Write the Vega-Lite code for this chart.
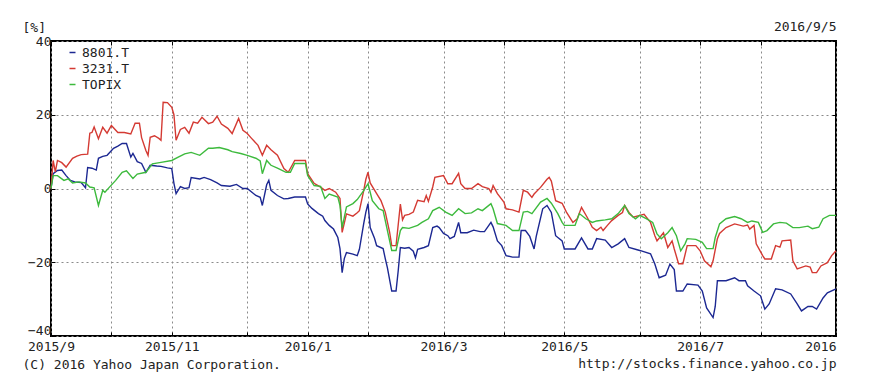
{
  "$schema": "https://vega.github.io/schema/vega-lite/v6.json",
  "width": 785,
  "height": 295,
  "autosize": {"type": "none"},
  "padding": {"left": 51, "top": 41, "right": 34, "bottom": 47},
  "background": "white",
  "config": {
    "font": "DejaVu Sans Mono",
    "view": {"stroke": "#000", "strokeWidth": 2},
    "axis": {
      "labelFont": "DejaVu Sans Mono", "labelFontSize": 13, "labelColor": "#222",
      "titleFont": "DejaVu Sans Mono", "titleFontSize": 13, "titleFontWeight": "normal", "titleColor": "#222",
      "domain": false, "gridColor": "#8a8a8a", "gridDash": [2, 3], "gridWidth": 1, "tickColor": "#000"
    }
  },
  "data": {"values": [
    {"date":"2015/09/07","code":"8801.T","pct":0},{"date":"2015/09/08","code":"8801.T","pct":4.0},{"date":"2015/09/10","code":"8801.T","pct":4.9},{"date":"2015/09/12","code":"8801.T","pct":5.0},{"date":"2015/09/14","code":"8801.T","pct":3.5},{"date":"2015/09/16","code":"8801.T","pct":2.2},{"date":"2015/09/18","code":"8801.T","pct":1.8},{"date":"2015/09/21","code":"8801.T","pct":1.6},{"date":"2015/09/23","code":"8801.T","pct":0.2},{"date":"2015/09/24","code":"8801.T","pct":5.7},{"date":"2015/09/26","code":"8801.T","pct":5.5},{"date":"2015/09/28","code":"8801.T","pct":5.0},{"date":"2015/09/29","code":"8801.T","pct":8.2},{"date":"2015/10/01","code":"8801.T","pct":8.7},{"date":"2015/10/03","code":"8801.T","pct":9.0},{"date":"2015/10/06","code":"8801.T","pct":10.9},{"date":"2015/10/08","code":"8801.T","pct":11.5},{"date":"2015/10/10","code":"8801.T","pct":12.2},{"date":"2015/10/12","code":"8801.T","pct":12.2},{"date":"2015/10/14","code":"8801.T","pct":8.5},{"date":"2015/10/15","code":"8801.T","pct":9.5},{"date":"2015/10/17","code":"8801.T","pct":7.3},{"date":"2015/10/19","code":"8801.T","pct":6.8},{"date":"2015/10/21","code":"8801.T","pct":4.4},{"date":"2015/10/23","code":"8801.T","pct":6.3},{"date":"2015/10/26","code":"8801.T","pct":6.1},{"date":"2015/10/28","code":"8801.T","pct":6.0},{"date":"2015/10/31","code":"8801.T","pct":5.6},{"date":"2015/11/02","code":"8801.T","pct":5.4},{"date":"2015/11/03","code":"8801.T","pct":1.4},{"date":"2015/11/04","code":"8801.T","pct":-1.4},{"date":"2015/11/06","code":"8801.T","pct":0.5},{"date":"2015/11/08","code":"8801.T","pct":0.0},{"date":"2015/11/10","code":"8801.T","pct":0.2},{"date":"2015/11/11","code":"8801.T","pct":3.0},{"date":"2015/11/15","code":"8801.T","pct":2.6},{"date":"2015/11/17","code":"8801.T","pct":3.0},{"date":"2015/11/20","code":"8801.T","pct":2.4},{"date":"2015/11/23","code":"8801.T","pct":1.5},{"date":"2015/11/25","code":"8801.T","pct":0.8},{"date":"2015/11/29","code":"8801.T","pct":0.6},{"date":"2015/12/02","code":"8801.T","pct":1.1},{"date":"2015/12/05","code":"8801.T","pct":0},{"date":"2015/12/07","code":"8801.T","pct":0},{"date":"2015/12/11","code":"8801.T","pct":-1.9},{"date":"2015/12/13","code":"8801.T","pct":-2.4},{"date":"2015/12/14","code":"8801.T","pct":-4.6},{"date":"2015/12/16","code":"8801.T","pct":1.0},{"date":"2015/12/17","code":"8801.T","pct":2.2},{"date":"2015/12/18","code":"8801.T","pct":-0.5},{"date":"2015/12/21","code":"8801.T","pct":-1.9},{"date":"2015/12/24","code":"8801.T","pct":-2.8},{"date":"2015/12/26","code":"8801.T","pct":-2.7},{"date":"2015/12/29","code":"8801.T","pct":-2.3},{"date":"2016/01/03","code":"8801.T","pct":-2.3},{"date":"2016/01/04","code":"8801.T","pct":-4.2},{"date":"2016/01/06","code":"8801.T","pct":-5.4},{"date":"2016/01/09","code":"8801.T","pct":-6.8},{"date":"2016/01/11","code":"8801.T","pct":-7.5},{"date":"2016/01/12","code":"8801.T","pct":-8.7},{"date":"2016/01/14","code":"8801.T","pct":-10},{"date":"2016/01/16","code":"8801.T","pct":-11},{"date":"2016/01/18","code":"8801.T","pct":-13.3},{"date":"2016/01/19","code":"8801.T","pct":-16.3},{"date":"2016/01/20","code":"8801.T","pct":-22.8},{"date":"2016/01/21","code":"8801.T","pct":-19},{"date":"2016/01/22","code":"8801.T","pct":-17.4},{"date":"2016/01/25","code":"8801.T","pct":-17.8},{"date":"2016/01/27","code":"8801.T","pct":-18.2},{"date":"2016/01/28","code":"8801.T","pct":-16.5},{"date":"2016/01/30","code":"8801.T","pct":-9.5},{"date":"2016/01/31","code":"8801.T","pct":-6.4},{"date":"2016/02/01","code":"8801.T","pct":-4.1},{"date":"2016/02/02","code":"8801.T","pct":-10.6},{"date":"2016/02/04","code":"8801.T","pct":-13.5},{"date":"2016/02/05","code":"8801.T","pct":-15.5},{"date":"2016/02/08","code":"8801.T","pct":-16.3},{"date":"2016/02/09","code":"8801.T","pct":-19},{"date":"2016/02/10","code":"8801.T","pct":-21.5},{"date":"2016/02/12","code":"8801.T","pct":-27.8},{"date":"2016/02/14","code":"8801.T","pct":-27.8},{"date":"2016/02/15","code":"8801.T","pct":-22.3},{"date":"2016/02/16","code":"8801.T","pct":-16.0},{"date":"2016/02/18","code":"8801.T","pct":-16.2},{"date":"2016/02/20","code":"8801.T","pct":-16.0},{"date":"2016/02/22","code":"8801.T","pct":-17},{"date":"2016/02/23","code":"8801.T","pct":-18.8},{"date":"2016/02/24","code":"8801.T","pct":-16.5},{"date":"2016/02/27","code":"8801.T","pct":-16.0},{"date":"2016/02/29","code":"8801.T","pct":-15.5},{"date":"2016/03/02","code":"8801.T","pct":-10.6},{"date":"2016/03/04","code":"8801.T","pct":-10.2},{"date":"2016/03/05","code":"8801.T","pct":-10.6},{"date":"2016/03/07","code":"8801.T","pct":-12.2},{"date":"2016/03/09","code":"8801.T","pct":-12.8},{"date":"2016/03/10","code":"8801.T","pct":-13.6},{"date":"2016/03/12","code":"8801.T","pct":-13.0},{"date":"2016/03/14","code":"8801.T","pct":-9.2},{"date":"2016/03/15","code":"8801.T","pct":-12},{"date":"2016/03/17","code":"8801.T","pct":-12},{"date":"2016/03/18","code":"8801.T","pct":-12},{"date":"2016/03/21","code":"8801.T","pct":-11.3},{"date":"2016/03/24","code":"8801.T","pct":-11.7},{"date":"2016/03/26","code":"8801.T","pct":-11.7},{"date":"2016/03/29","code":"8801.T","pct":-9.2},{"date":"2016/03/30","code":"8801.T","pct":-10.4},{"date":"2016/04/01","code":"8801.T","pct":-14.2},{"date":"2016/04/03","code":"8801.T","pct":-15.5},{"date":"2016/04/05","code":"8801.T","pct":-18.2},{"date":"2016/04/08","code":"8801.T","pct":-18.6},{"date":"2016/04/11","code":"8801.T","pct":-18.6},{"date":"2016/04/12","code":"8801.T","pct":-11.4},{"date":"2016/04/14","code":"8801.T","pct":-11.4},{"date":"2016/04/16","code":"8801.T","pct":-13},{"date":"2016/04/18","code":"8801.T","pct":-16.4},{"date":"2016/04/19","code":"8801.T","pct":-13},{"date":"2016/04/22","code":"8801.T","pct":-5.5},{"date":"2016/04/24","code":"8801.T","pct":-4.6},{"date":"2016/04/26","code":"8801.T","pct":-6.5},{"date":"2016/04/28","code":"8801.T","pct":-12.8},{"date":"2016/05/01","code":"8801.T","pct":-14.2},{"date":"2016/05/02","code":"8801.T","pct":-16.4},{"date":"2016/05/07","code":"8801.T","pct":-16.4},{"date":"2016/05/10","code":"8801.T","pct":-13.4},{"date":"2016/05/13","code":"8801.T","pct":-16.4},{"date":"2016/05/15","code":"8801.T","pct":-16.4},{"date":"2016/05/17","code":"8801.T","pct":-13.6},{"date":"2016/05/21","code":"8801.T","pct":-14.0},{"date":"2016/05/24","code":"8801.T","pct":-16.0},{"date":"2016/05/27","code":"8801.T","pct":-15},{"date":"2016/05/30","code":"8801.T","pct":-13.6},{"date":"2016/06/01","code":"8801.T","pct":-16},{"date":"2016/06/06","code":"8801.T","pct":-16.8},{"date":"2016/06/11","code":"8801.T","pct":-17.7},{"date":"2016/06/13","code":"8801.T","pct":-20.5},{"date":"2016/06/15","code":"8801.T","pct":-24.2},{"date":"2016/06/18","code":"8801.T","pct":-23.5},{"date":"2016/06/20","code":"8801.T","pct":-20.5},{"date":"2016/06/22","code":"8801.T","pct":-22},{"date":"2016/06/23","code":"8801.T","pct":-27.8},{"date":"2016/06/26","code":"8801.T","pct":-27.8},{"date":"2016/06/28","code":"8801.T","pct":-25.9},{"date":"2016/07/03","code":"8801.T","pct":-26.2},{"date":"2016/07/05","code":"8801.T","pct":-27.8},{"date":"2016/07/07","code":"8801.T","pct":-32.4},{"date":"2016/07/10","code":"8801.T","pct":-35},{"date":"2016/07/11","code":"8801.T","pct":-32},{"date":"2016/07/12","code":"8801.T","pct":-25},{"date":"2016/07/16","code":"8801.T","pct":-25},{"date":"2016/07/20","code":"8801.T","pct":-24.2},{"date":"2016/07/22","code":"8801.T","pct":-25},{"date":"2016/07/25","code":"8801.T","pct":-25},{"date":"2016/07/26","code":"8801.T","pct":-26.4},{"date":"2016/07/29","code":"8801.T","pct":-27.8},{"date":"2016/08/01","code":"8801.T","pct":-29.1},{"date":"2016/08/03","code":"8801.T","pct":-32.7},{"date":"2016/08/05","code":"8801.T","pct":-31.3},{"date":"2016/08/08","code":"8801.T","pct":-27.2},{"date":"2016/08/11","code":"8801.T","pct":-27.5},{"date":"2016/08/15","code":"8801.T","pct":-28.6},{"date":"2016/08/18","code":"8801.T","pct":-31.3},{"date":"2016/08/20","code":"8801.T","pct":-33.2},{"date":"2016/08/23","code":"8801.T","pct":-32},{"date":"2016/08/25","code":"8801.T","pct":-32},{"date":"2016/08/27","code":"8801.T","pct":-32.7},{"date":"2016/08/30","code":"8801.T","pct":-29.7},{"date":"2016/09/01","code":"8801.T","pct":-28.3},{"date":"2016/09/05","code":"8801.T","pct":-27.2},
    {"date":"2015/09/07","code":"3231.T","pct":0},{"date":"2015/09/08","code":"3231.T","pct":7.6},{"date":"2015/09/09","code":"3231.T","pct":4.5},{"date":"2015/09/10","code":"3231.T","pct":7.6},{"date":"2015/09/12","code":"3231.T","pct":7.0},{"date":"2015/09/14","code":"3231.T","pct":5.8},{"date":"2015/09/17","code":"3231.T","pct":8.2},{"date":"2015/09/19","code":"3231.T","pct":8.8},{"date":"2015/09/21","code":"3231.T","pct":9.2},{"date":"2015/09/24","code":"3231.T","pct":9.3},{"date":"2015/09/25","code":"3231.T","pct":15.0},{"date":"2015/09/26","code":"3231.T","pct":15.2},{"date":"2015/09/27","code":"3231.T","pct":16.7},{"date":"2015/09/29","code":"3231.T","pct":13.5},{"date":"2015/10/01","code":"3231.T","pct":16.6},{"date":"2015/10/03","code":"3231.T","pct":15.0},{"date":"2015/10/05","code":"3231.T","pct":17.1},{"date":"2015/10/08","code":"3231.T","pct":15.2},{"date":"2015/10/11","code":"3231.T","pct":15.2},{"date":"2015/10/14","code":"3231.T","pct":14.8},{"date":"2015/10/16","code":"3231.T","pct":17.7},{"date":"2015/10/18","code":"3231.T","pct":17.7},{"date":"2015/10/19","code":"3231.T","pct":13.8},{"date":"2015/10/21","code":"3231.T","pct":10.3},{"date":"2015/10/22","code":"3231.T","pct":9.0},{"date":"2015/10/23","code":"3231.T","pct":13.9},{"date":"2015/10/25","code":"3231.T","pct":14.3},{"date":"2015/10/27","code":"3231.T","pct":13.6},{"date":"2015/10/28","code":"3231.T","pct":13.1},{"date":"2015/10/29","code":"3231.T","pct":23.4},{"date":"2015/10/31","code":"3231.T","pct":23.3},{"date":"2015/11/02","code":"3231.T","pct":22.0},{"date":"2015/11/03","code":"3231.T","pct":20.0},{"date":"2015/11/04","code":"3231.T","pct":13.1},{"date":"2015/11/06","code":"3231.T","pct":16.0},{"date":"2015/11/08","code":"3231.T","pct":16.6},{"date":"2015/11/10","code":"3231.T","pct":15.0},{"date":"2015/11/12","code":"3231.T","pct":18.0},{"date":"2015/11/14","code":"3231.T","pct":17.7},{"date":"2015/11/16","code":"3231.T","pct":19.3},{"date":"2015/11/19","code":"3231.T","pct":17.6},{"date":"2015/11/21","code":"3231.T","pct":18.0},{"date":"2015/11/23","code":"3231.T","pct":19.6},{"date":"2015/11/25","code":"3231.T","pct":17.5},{"date":"2015/11/28","code":"3231.T","pct":16.3},{"date":"2015/11/30","code":"3231.T","pct":14.9},{"date":"2015/12/03","code":"3231.T","pct":19.0},{"date":"2015/12/05","code":"3231.T","pct":15.8},{"date":"2015/12/07","code":"3231.T","pct":14.9},{"date":"2015/12/09","code":"3231.T","pct":13.6},{"date":"2015/12/12","code":"3231.T","pct":11.7},{"date":"2015/12/14","code":"3231.T","pct":9.0},{"date":"2015/12/16","code":"3231.T","pct":11.7},{"date":"2015/12/18","code":"3231.T","pct":10.5},{"date":"2015/12/21","code":"3231.T","pct":9.0},{"date":"2015/12/24","code":"3231.T","pct":5.4},{"date":"2015/12/26","code":"3231.T","pct":4.4},{"date":"2015/12/28","code":"3231.T","pct":6.5},{"date":"2015/12/29","code":"3231.T","pct":7.6},{"date":"2016/01/03","code":"3231.T","pct":7.6},{"date":"2016/01/04","code":"3231.T","pct":4.0},{"date":"2016/01/07","code":"3231.T","pct":1.4},{"date":"2016/01/10","code":"3231.T","pct":0.4},{"date":"2016/01/12","code":"3231.T","pct":-0.5},{"date":"2016/01/14","code":"3231.T","pct":0.0},{"date":"2016/01/17","code":"3231.T","pct":-1.0},{"date":"2016/01/19","code":"3231.T","pct":-2.7},{"date":"2016/01/20","code":"3231.T","pct":-11.9},{"date":"2016/01/22","code":"3231.T","pct":-6.9},{"date":"2016/01/25","code":"3231.T","pct":-7.5},{"date":"2016/01/27","code":"3231.T","pct":-6.6},{"date":"2016/01/28","code":"3231.T","pct":-6.0},{"date":"2016/01/30","code":"3231.T","pct":-0.6},{"date":"2016/01/31","code":"3231.T","pct":2.5},{"date":"2016/02/01","code":"3231.T","pct":4.4},{"date":"2016/02/02","code":"3231.T","pct":1.5},{"date":"2016/02/05","code":"3231.T","pct":-1.4},{"date":"2016/02/07","code":"3231.T","pct":-3.3},{"date":"2016/02/09","code":"3231.T","pct":-6.4},{"date":"2016/02/11","code":"3231.T","pct":-11.8},{"date":"2016/02/12","code":"3231.T","pct":-15.5},{"date":"2016/02/14","code":"3231.T","pct":-15.5},{"date":"2016/02/16","code":"3231.T","pct":-4.2},{"date":"2016/02/17","code":"3231.T","pct":-8.5},{"date":"2016/02/18","code":"3231.T","pct":-7.3},{"date":"2016/02/20","code":"3231.T","pct":-7.0},{"date":"2016/02/22","code":"3231.T","pct":-6.4},{"date":"2016/02/24","code":"3231.T","pct":-3.2},{"date":"2016/02/27","code":"3231.T","pct":-3.6},{"date":"2016/02/28","code":"3231.T","pct":-1.9},{"date":"2016/02/29","code":"3231.T","pct":-3.5},{"date":"2016/03/02","code":"3231.T","pct":0.4},{"date":"2016/03/03","code":"3231.T","pct":3.0},{"date":"2016/03/07","code":"3231.T","pct":3.5},{"date":"2016/03/09","code":"3231.T","pct":1.3},{"date":"2016/03/11","code":"3231.T","pct":1.3},{"date":"2016/03/14","code":"3231.T","pct":4.1},{"date":"2016/03/15","code":"3231.T","pct":1.3},{"date":"2016/03/17","code":"3231.T","pct":0},{"date":"2016/03/20","code":"3231.T","pct":0},{"date":"2016/03/23","code":"3231.T","pct":1.3},{"date":"2016/03/25","code":"3231.T","pct":0.5},{"date":"2016/03/28","code":"3231.T","pct":0},{"date":"2016/03/29","code":"3231.T","pct":-1},{"date":"2016/03/30","code":"3231.T","pct":0.8},{"date":"2016/04/01","code":"3231.T","pct":-1.4},{"date":"2016/04/04","code":"3231.T","pct":-3.7},{"date":"2016/04/05","code":"3231.T","pct":-5.5},{"date":"2016/04/08","code":"3231.T","pct":-5.8},{"date":"2016/04/11","code":"3231.T","pct":-6.4},{"date":"2016/04/13","code":"3231.T","pct":-0.5},{"date":"2016/04/15","code":"3231.T","pct":-1},{"date":"2016/04/17","code":"3231.T","pct":-2.4},{"date":"2016/04/18","code":"3231.T","pct":-1.5},{"date":"2016/04/21","code":"3231.T","pct":0.3},{"date":"2016/04/24","code":"3231.T","pct":2.5},{"date":"2016/04/25","code":"3231.T","pct":3.0},{"date":"2016/04/26","code":"3231.T","pct":2.0},{"date":"2016/04/28","code":"3231.T","pct":-3.3},{"date":"2016/05/01","code":"3231.T","pct":-4},{"date":"2016/05/03","code":"3231.T","pct":-6.4},{"date":"2016/05/06","code":"3231.T","pct":-9.2},{"date":"2016/05/08","code":"3231.T","pct":-8.2},{"date":"2016/05/10","code":"3231.T","pct":-5.1},{"date":"2016/05/13","code":"3231.T","pct":-8.2},{"date":"2016/05/15","code":"3231.T","pct":-10.5},{"date":"2016/05/17","code":"3231.T","pct":-11.4},{"date":"2016/05/19","code":"3231.T","pct":-10.5},{"date":"2016/05/20","code":"3231.T","pct":-11.4},{"date":"2016/05/22","code":"3231.T","pct":-10},{"date":"2016/05/24","code":"3231.T","pct":-8.7},{"date":"2016/05/27","code":"3231.T","pct":-7.3},{"date":"2016/05/29","code":"3231.T","pct":-6.5},{"date":"2016/05/30","code":"3231.T","pct":-4.6},{"date":"2016/06/01","code":"3231.T","pct":-6.5},{"date":"2016/06/03","code":"3231.T","pct":-7.8},{"date":"2016/06/06","code":"3231.T","pct":-7.3},{"date":"2016/06/08","code":"3231.T","pct":-7},{"date":"2016/06/11","code":"3231.T","pct":-9.2},{"date":"2016/06/13","code":"3231.T","pct":-12.8},{"date":"2016/06/14","code":"3231.T","pct":-14.2},{"date":"2016/06/17","code":"3231.T","pct":-12},{"date":"2016/06/19","code":"3231.T","pct":-16},{"date":"2016/06/21","code":"3231.T","pct":-14.2},{"date":"2016/06/22","code":"3231.T","pct":-16.4},{"date":"2016/06/24","code":"3231.T","pct":-20.4},{"date":"2016/06/26","code":"3231.T","pct":-20.4},{"date":"2016/06/28","code":"3231.T","pct":-15.5},{"date":"2016/07/02","code":"3231.T","pct":-15.5},{"date":"2016/07/04","code":"3231.T","pct":-16.9},{"date":"2016/07/06","code":"3231.T","pct":-19.6},{"date":"2016/07/09","code":"3231.T","pct":-21.2},{"date":"2016/07/10","code":"3231.T","pct":-19.6},{"date":"2016/07/12","code":"3231.T","pct":-13.6},{"date":"2016/07/13","code":"3231.T","pct":-12.2},{"date":"2016/07/16","code":"3231.T","pct":-10.6},{"date":"2016/07/20","code":"3231.T","pct":-9.6},{"date":"2016/07/24","code":"3231.T","pct":-10.2},{"date":"2016/07/26","code":"3231.T","pct":-9.9},{"date":"2016/07/27","code":"3231.T","pct":-11},{"date":"2016/07/29","code":"3231.T","pct":-10},{"date":"2016/07/30","code":"3231.T","pct":-15},{"date":"2016/08/02","code":"3231.T","pct":-18.2},{"date":"2016/08/03","code":"3231.T","pct":-19.1},{"date":"2016/08/06","code":"3231.T","pct":-19.1},{"date":"2016/08/08","code":"3231.T","pct":-15.5},{"date":"2016/08/10","code":"3231.T","pct":-15.9},{"date":"2016/08/11","code":"3231.T","pct":-14.2},{"date":"2016/08/15","code":"3231.T","pct":-14.0},{"date":"2016/08/16","code":"3231.T","pct":-19.6},{"date":"2016/08/18","code":"3231.T","pct":-21.8},{"date":"2016/08/22","code":"3231.T","pct":-21.0},{"date":"2016/08/24","code":"3231.T","pct":-21.3},{"date":"2016/08/25","code":"3231.T","pct":-22.8},{"date":"2016/08/27","code":"3231.T","pct":-22.8},{"date":"2016/08/29","code":"3231.T","pct":-21},{"date":"2016/09/01","code":"3231.T","pct":-20.1},{"date":"2016/09/03","code":"3231.T","pct":-18.2},{"date":"2016/09/05","code":"3231.T","pct":-16.9},
    {"date":"2015/09/07","code":"TOPIX","pct":0},{"date":"2015/09/08","code":"TOPIX","pct":3.5},{"date":"2015/09/10","code":"TOPIX","pct":3.5},{"date":"2015/09/13","code":"TOPIX","pct":2.2},{"date":"2015/09/15","code":"TOPIX","pct":2.6},{"date":"2015/09/17","code":"TOPIX","pct":1.5},{"date":"2015/09/20","code":"TOPIX","pct":1.8},{"date":"2015/09/23","code":"TOPIX","pct":1.5},{"date":"2015/09/25","code":"TOPIX","pct":0.4},{"date":"2015/09/27","code":"TOPIX","pct":0.2},{"date":"2015/09/29","code":"TOPIX","pct":-4.6},{"date":"2015/10/01","code":"TOPIX","pct":-0.5},{"date":"2015/10/02","code":"TOPIX","pct":-1.0},{"date":"2015/10/04","code":"TOPIX","pct":0.3},{"date":"2015/10/07","code":"TOPIX","pct":2.2},{"date":"2015/10/10","code":"TOPIX","pct":4.4},{"date":"2015/10/12","code":"TOPIX","pct":4.8},{"date":"2015/10/15","code":"TOPIX","pct":2.7},{"date":"2015/10/17","code":"TOPIX","pct":3.9},{"date":"2015/10/21","code":"TOPIX","pct":4.4},{"date":"2015/10/24","code":"TOPIX","pct":6.7},{"date":"2015/10/28","code":"TOPIX","pct":7.1},{"date":"2015/11/02","code":"TOPIX","pct":7.6},{"date":"2015/11/05","code":"TOPIX","pct":8.5},{"date":"2015/11/08","code":"TOPIX","pct":9.4},{"date":"2015/11/11","code":"TOPIX","pct":9.8},{"date":"2015/11/15","code":"TOPIX","pct":9.0},{"date":"2015/11/19","code":"TOPIX","pct":10.9},{"date":"2015/11/21","code":"TOPIX","pct":10.9},{"date":"2015/11/24","code":"TOPIX","pct":11.1},{"date":"2015/11/28","code":"TOPIX","pct":10.5},{"date":"2015/11/30","code":"TOPIX","pct":10.0},{"date":"2015/12/04","code":"TOPIX","pct":9.5},{"date":"2015/12/07","code":"TOPIX","pct":9.0},{"date":"2015/12/11","code":"TOPIX","pct":8.2},{"date":"2015/12/13","code":"TOPIX","pct":7.5},{"date":"2015/12/14","code":"TOPIX","pct":4.0},{"date":"2015/12/16","code":"TOPIX","pct":7.6},{"date":"2015/12/18","code":"TOPIX","pct":6.3},{"date":"2015/12/21","code":"TOPIX","pct":5.5},{"date":"2015/12/25","code":"TOPIX","pct":4.4},{"date":"2015/12/27","code":"TOPIX","pct":4.4},{"date":"2015/12/29","code":"TOPIX","pct":6.8},{"date":"2016/01/03","code":"TOPIX","pct":6.8},{"date":"2016/01/04","code":"TOPIX","pct":3.5},{"date":"2016/01/07","code":"TOPIX","pct":0.8},{"date":"2016/01/10","code":"TOPIX","pct":0.6},{"date":"2016/01/12","code":"TOPIX","pct":-2.7},{"date":"2016/01/14","code":"TOPIX","pct":-1.5},{"date":"2016/01/18","code":"TOPIX","pct":-2.3},{"date":"2016/01/19","code":"TOPIX","pct":-4.6},{"date":"2016/01/20","code":"TOPIX","pct":-10.6},{"date":"2016/01/22","code":"TOPIX","pct":-5},{"date":"2016/01/25","code":"TOPIX","pct":-4.1},{"date":"2016/01/27","code":"TOPIX","pct":-3.0},{"date":"2016/01/30","code":"TOPIX","pct":-0.6},{"date":"2016/01/31","code":"TOPIX","pct":0.4},{"date":"2016/02/01","code":"TOPIX","pct":1.3},{"date":"2016/02/03","code":"TOPIX","pct":-3.3},{"date":"2016/02/06","code":"TOPIX","pct":-5.5},{"date":"2016/02/08","code":"TOPIX","pct":-6},{"date":"2016/02/10","code":"TOPIX","pct":-11.4},{"date":"2016/02/12","code":"TOPIX","pct":-16.8},{"date":"2016/02/14","code":"TOPIX","pct":-16.8},{"date":"2016/02/16","code":"TOPIX","pct":-11.4},{"date":"2016/02/17","code":"TOPIX","pct":-10.6},{"date":"2016/02/20","code":"TOPIX","pct":-10.8},{"date":"2016/02/24","code":"TOPIX","pct":-10},{"date":"2016/02/26","code":"TOPIX","pct":-9.2},{"date":"2016/02/29","code":"TOPIX","pct":-8.2},{"date":"2016/03/02","code":"TOPIX","pct":-6},{"date":"2016/03/05","code":"TOPIX","pct":-5.1},{"date":"2016/03/08","code":"TOPIX","pct":-6.4},{"date":"2016/03/11","code":"TOPIX","pct":-7.3},{"date":"2016/03/14","code":"TOPIX","pct":-5.5},{"date":"2016/03/17","code":"TOPIX","pct":-6.8},{"date":"2016/03/20","code":"TOPIX","pct":-6.6},{"date":"2016/03/23","code":"TOPIX","pct":-5.5},{"date":"2016/03/25","code":"TOPIX","pct":-6},{"date":"2016/03/29","code":"TOPIX","pct":-4.1},{"date":"2016/03/30","code":"TOPIX","pct":-5.5},{"date":"2016/04/01","code":"TOPIX","pct":-9.5},{"date":"2016/04/05","code":"TOPIX","pct":-10},{"date":"2016/04/08","code":"TOPIX","pct":-11.4},{"date":"2016/04/11","code":"TOPIX","pct":-11.4},{"date":"2016/04/13","code":"TOPIX","pct":-6.4},{"date":"2016/04/15","code":"TOPIX","pct":-6.2},{"date":"2016/04/17","code":"TOPIX","pct":-6.8},{"date":"2016/04/21","code":"TOPIX","pct":-3.7},{"date":"2016/04/24","code":"TOPIX","pct":-2.7},{"date":"2016/04/26","code":"TOPIX","pct":-4},{"date":"2016/04/29","code":"TOPIX","pct":-6.8},{"date":"2016/05/01","code":"TOPIX","pct":-9.2},{"date":"2016/05/02","code":"TOPIX","pct":-10},{"date":"2016/05/07","code":"TOPIX","pct":-10},{"date":"2016/05/09","code":"TOPIX","pct":-6.8},{"date":"2016/05/12","code":"TOPIX","pct":-8.2},{"date":"2016/05/15","code":"TOPIX","pct":-9.2},{"date":"2016/05/17","code":"TOPIX","pct":-8.8},{"date":"2016/05/21","code":"TOPIX","pct":-8.5},{"date":"2016/05/24","code":"TOPIX","pct":-8.2},{"date":"2016/05/27","code":"TOPIX","pct":-6.8},{"date":"2016/05/30","code":"TOPIX","pct":-4.6},{"date":"2016/06/01","code":"TOPIX","pct":-6.8},{"date":"2016/06/04","code":"TOPIX","pct":-8.2},{"date":"2016/06/06","code":"TOPIX","pct":-7.3},{"date":"2016/06/09","code":"TOPIX","pct":-8.2},{"date":"2016/06/12","code":"TOPIX","pct":-9.2},{"date":"2016/06/14","code":"TOPIX","pct":-12.3},{"date":"2016/06/16","code":"TOPIX","pct":-13.6},{"date":"2016/06/19","code":"TOPIX","pct":-12},{"date":"2016/06/21","code":"TOPIX","pct":-10.6},{"date":"2016/06/23","code":"TOPIX","pct":-12.8},{"date":"2016/06/25","code":"TOPIX","pct":-16.9},{"date":"2016/06/27","code":"TOPIX","pct":-15},{"date":"2016/06/28","code":"TOPIX","pct":-13.6},{"date":"2016/07/02","code":"TOPIX","pct":-13.8},{"date":"2016/07/05","code":"TOPIX","pct":-14.6},{"date":"2016/07/07","code":"TOPIX","pct":-16.3},{"date":"2016/07/10","code":"TOPIX","pct":-16.3},{"date":"2016/07/11","code":"TOPIX","pct":-13.3},{"date":"2016/07/13","code":"TOPIX","pct":-9.6},{"date":"2016/07/16","code":"TOPIX","pct":-8.2},{"date":"2016/07/20","code":"TOPIX","pct":-7.6},{"date":"2016/07/23","code":"TOPIX","pct":-8.2},{"date":"2016/07/26","code":"TOPIX","pct":-9.2},{"date":"2016/07/28","code":"TOPIX","pct":-8.8},{"date":"2016/07/31","code":"TOPIX","pct":-9.2},{"date":"2016/08/02","code":"TOPIX","pct":-11.9},{"date":"2016/08/04","code":"TOPIX","pct":-11.4},{"date":"2016/08/07","code":"TOPIX","pct":-9.6},{"date":"2016/08/10","code":"TOPIX","pct":-9.2},{"date":"2016/08/13","code":"TOPIX","pct":-9.4},{"date":"2016/08/16","code":"TOPIX","pct":-10.6},{"date":"2016/08/19","code":"TOPIX","pct":-10.6},{"date":"2016/08/23","code":"TOPIX","pct":-10.2},{"date":"2016/08/25","code":"TOPIX","pct":-10.9},{"date":"2016/08/28","code":"TOPIX","pct":-10.5},{"date":"2016/08/30","code":"TOPIX","pct":-8.2},{"date":"2016/09/02","code":"TOPIX","pct":-7.3},{"date":"2016/09/05","code":"TOPIX","pct":-7.3}
  ]},
  "layer": [
    {
      "mark": {"type": "line", "strokeOpacity": 0},
      "encoding": {
        "x": {"field": "date", "type": "temporal",
          "scale": {"domain": [{"year": 2015, "month": 9, "date": 7}, {"year": 2016, "month": 9, "date": 5}], "nice": false},
          "axis": {"orient": "top", "labels": false, "grid": false, "ticks": true, "tickSize": -4,
            "values": [{"year":2015,"month":9,"date":7},{"year":2015,"month":10,"date":5},{"year":2015,"month":11,"date":2},{"year":2015,"month":12,"date":7},{"year":2016,"month":1,"date":4},{"year":2016,"month":2,"date":1},{"year":2016,"month":3,"date":7},{"year":2016,"month":4,"date":4},{"year":2016,"month":5,"date":2},{"year":2016,"month":6,"date":6},{"year":2016,"month":7,"date":4},{"year":2016,"month":8,"date":1},{"year":2016,"month":9,"date":5}],
            "title": "2016/9/5", "titleAlign": "right", "titleAngle": 0, "titleBaseline": "middle", "titleX": 785, "titleY": -15}},
        "y": {"field": "pct", "type": "quantitative",
          "scale": {"domain": [-40, 40], "nice": false},
          "axis": {"orient": "right", "labels": false, "grid": false, "ticks": true, "tickSize": -4, "values": [-40, -20, 0, 20, 40],
            "title": "http://stocks.finance.yahoo.co.jp", "titleAngle": 0, "titleAlign": "right", "titleBaseline": "middle", "titleX": 0, "titleY": 322}},
        "detail": {"field": "code"}
      }
    },
    {
      "mark": {"type": "line", "strokeWidth": 1.4},
      "encoding": {
        "x": {"field": "date", "type": "temporal",
          "axis": {"orient": "bottom", "grid": true, "ticks": true, "tickSize": -4, "labelPadding": 8, "labelFlush": false, "labelOverlap": false, "labelBound": false,
            "values": [{"year":2015,"month":9,"date":7},{"year":2015,"month":10,"date":5},{"year":2015,"month":11,"date":2},{"year":2015,"month":12,"date":7},{"year":2016,"month":1,"date":4},{"year":2016,"month":2,"date":1},{"year":2016,"month":3,"date":7},{"year":2016,"month":4,"date":4},{"year":2016,"month":5,"date":2},{"year":2016,"month":6,"date":6},{"year":2016,"month":7,"date":4},{"year":2016,"month":8,"date":1},{"year":2016,"month":9,"date":5}],
            "labelExpr": "month(datum.value) % 2 == 0 ? ((year(datum.value) == 2016 && month(datum.value) == 8) ? '2016' : timeFormat(datum.value, '%Y/%-m')) : ''",
            "labelAlign": {"condition": {"test": "year(datum.value) == 2016 && month(datum.value) == 8", "value": "right"}, "value": "center"},
            "title": "(C) 2016 Yahoo Japan Corporation.", "titleAlign": "left", "titleBaseline": "middle", "titleX": -29, "titleY": 28}},
        "y": {"field": "pct", "type": "quantitative",
          "axis": {"orient": "left", "grid": true, "ticks": true, "tickSize": -4, "labelPadding": 4, "values": [-40, -20, 0, 20, 40],
            "labelOffset": {"condition": {"test": "datum.value == -40", "value": -6}, "value": 0},
            "title": "[%]", "titleAngle": 0, "titleAlign": "left", "titleBaseline": "middle", "titleX": -29, "titleY": -14}},
        "color": {"field": "code", "type": "nominal",
          "scale": {"domain": ["8801.T", "3231.T", "TOPIX"], "range": ["#1c2892", "#d43a33", "#3dba3d"]},
          "legend": {"title": null, "orient": "none", "legendX": 15, "legendY": 5, "symbolType": "stroke", "symbolSize": 36, "symbolStrokeWidth": 1.5,
            "labelFont": "DejaVu Sans Mono", "labelFontSize": 13, "labelColor": "#222", "rowPadding": 2, "labelOffset": 3, "padding": 0}}
      }
    }
  ],
  "resolve": {"axis": {"x": "independent", "y": "independent"}}
}
